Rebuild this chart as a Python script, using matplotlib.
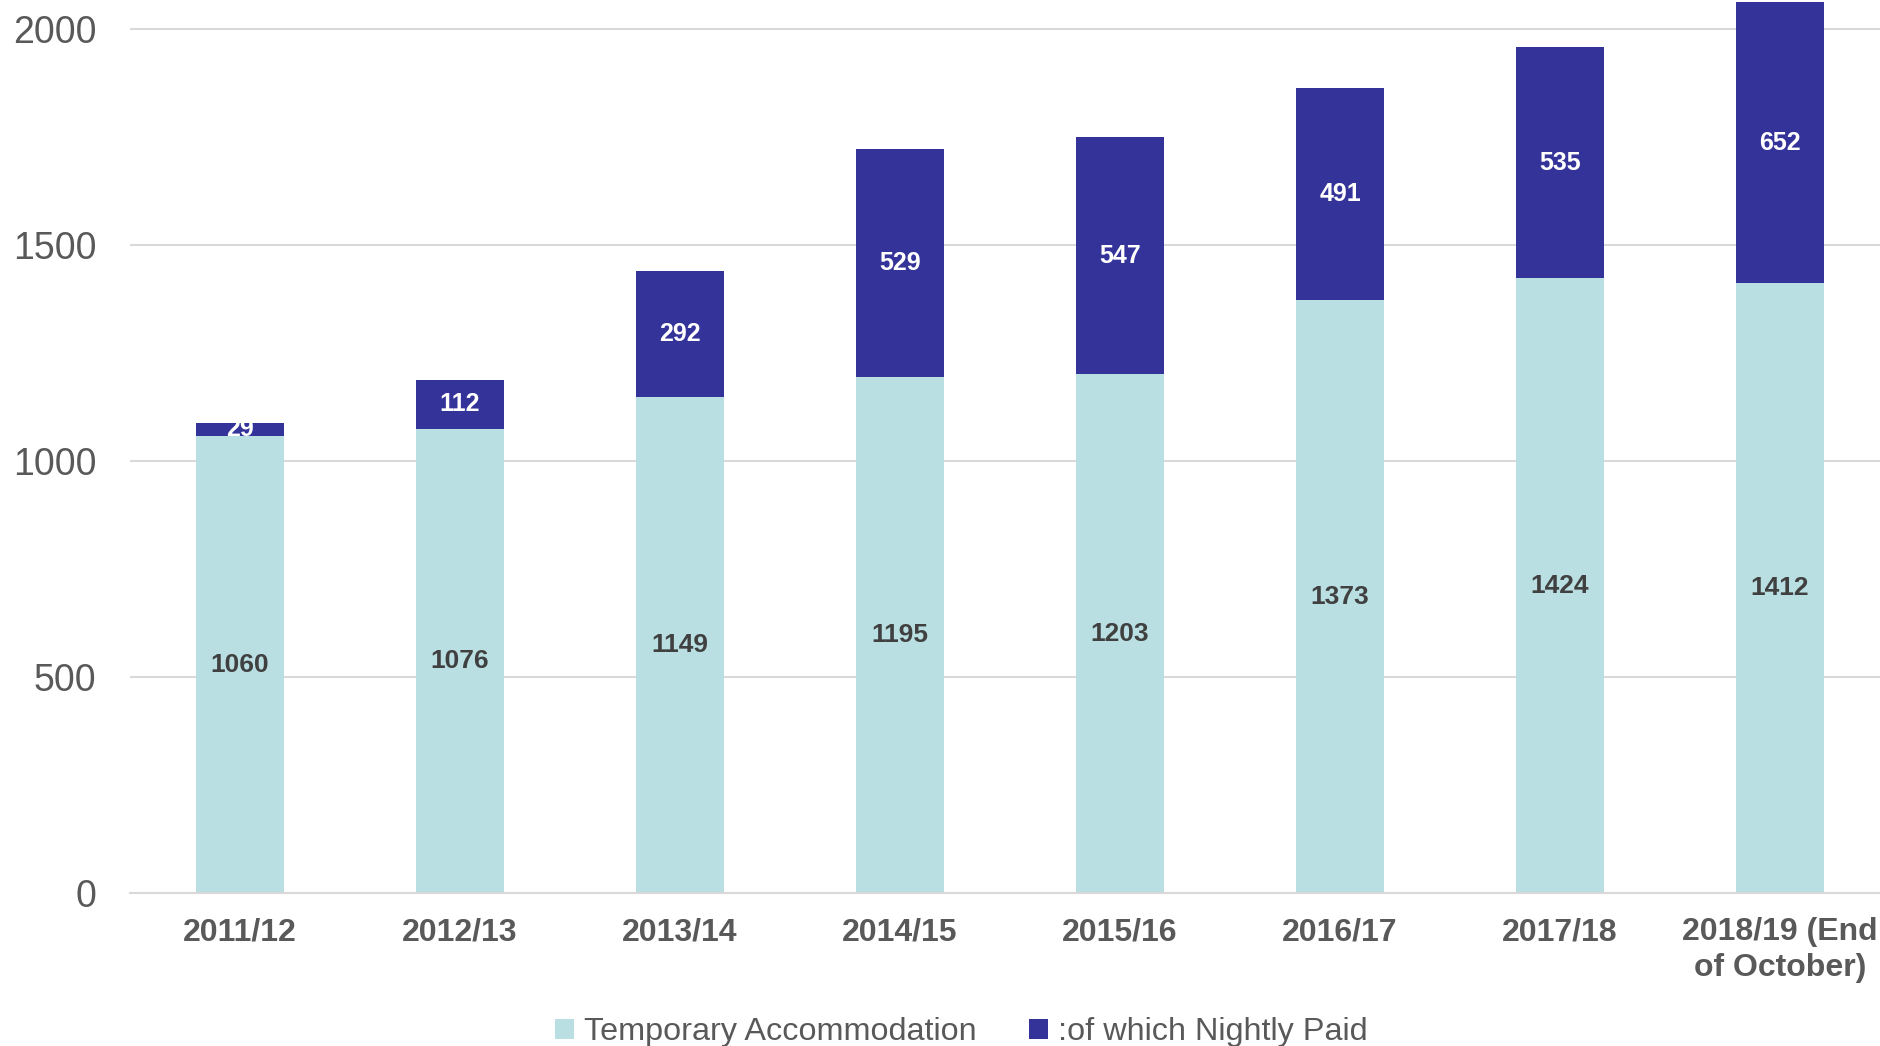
import numpy as np
import matplotlib.pyplot as plt

# Datos del gráfico
years = ['2011/12', '2012/13', '2013/14', '2014/15', '2015/16',
         '2016/17', '2017/18', '2018/19 (End\nof October)']
temporary = [1060, 1076, 1149, 1195, 1203, 1373, 1424, 1412]
nightly = [29, 112, 292, 529, 547, 491, 535, 652]

light = '#B9DFE2'
dark = '#343399'
grey = '#595959'

plt.rcParams['font.family'] = ['Liberation Sans', 'DejaVu Sans']

fig = plt.figure(figsize=(18.81, 10.46), dpi=100)
ax = fig.add_axes([0.0691, 0.1458, 0.9357, 0.8542])

x = np.arange(len(years))
b1 = ax.bar(x, temporary, width=0.4, color=light, label='Temporary Accommodation', zorder=2)
b2 = ax.bar(x, nightly, width=0.4, bottom=temporary, color=dark, label=':of which Nightly Paid', zorder=2)

# Etiquetas de datos
for xi, t, n in zip(x, temporary, nightly):
    ax.text(xi, t / 2, str(t), ha='center', va='center', fontsize=19,
            fontweight='bold', color='#404040', zorder=3)
    ax.text(xi, t + n / 2, str(n), ha='center', va='center', fontsize=18,
            fontweight='bold', color='white', zorder=3)

ax.set_xlim(-0.5, 7.5)
ax.set_ylim(0, 2068)
ax.set_yticks([0, 500, 1000, 1500, 2000])
ax.set_xticks(x)
ax.set_xticklabels(years, fontsize=23, fontweight='bold', color=grey, linespacing=1.25)
ax.tick_params(axis='y', labelsize=27, labelcolor=grey, length=0, pad=24)
ax.tick_params(axis='x', length=0, pad=17)

ax.grid(axis='y', color='#D9D9D9', linewidth=1.5, zorder=0)
for s in ['top', 'right', 'left']:
    ax.spines[s].set_visible(False)
ax.spines['bottom'].set_color('#D9D9D9')
ax.spines['bottom'].set_linewidth(1.5)

fig.legend(handles=[b1, b2], loc='center', bbox_to_anchor=(0.511, 0.013), ncol=2,
           frameon=False, fontsize=23.3, labelcolor=grey, handlelength=0.6,
           handleheight=0.6, handletextpad=0.3, columnspacing=1.6)

fig.savefig('out.png', dpi=100)
